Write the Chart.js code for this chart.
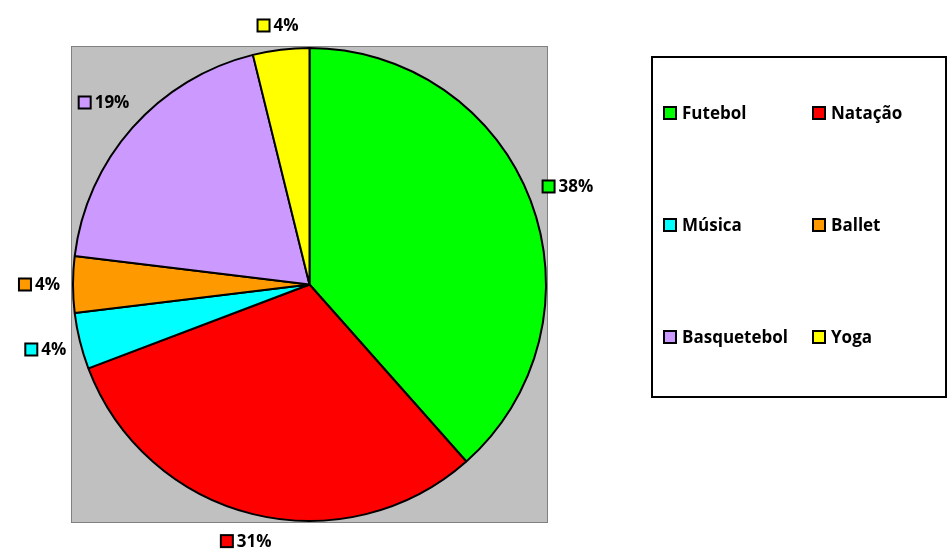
<!DOCTYPE html>
<html>
<head>
<meta charset="utf-8">
<script src="https://cdn.jsdelivr.net/npm/chart.js@4/dist/chart.umd.min.js"></script>
<style>
  html, body { margin: 0; padding: 0; background: #fff; }
  #wrap { width: 947px; height: 551px; position: relative; }
</style>
</head>
<body>
<div id="wrap"><canvas id="myChart" width="947" height="551"></canvas></div>
<script>
// dados
const categorias = ['Futebol', 'Natação', 'Música', 'Ballet', 'Basquetebol', 'Yoga'];
const contagens = [10, 8, 1, 1, 5, 1];
const cores = ['#00FF00', '#FF0000', '#00FFFF', '#FF9900', '#CC99FF', '#FFFF00'];

const FONTE = 'bold 17px "Open Sans", Lato, sans-serif';

// fundo cinzento da área do gráfico
const fundoPlugin = {
    id: 'fundo',
    beforeDatasetsDraw(chart) {
        const arc = chart.getDatasetMeta(0).data[0];
        if (!arc) return;
        const r = arc.outerRadius + 1;
        const ctx = chart.ctx;
        ctx.save();
        ctx.fillStyle = '#C0C0C0';
        ctx.fillRect(arc.x - r, arc.y - r, 2 * r, 2 * r);
        ctx.strokeStyle = '#808080';
        ctx.lineWidth = 1;
        ctx.strokeRect(arc.x - r - 0.5, arc.y - r - 0.5, 2 * r + 1, 2 * r + 1);
        ctx.restore();
    }
};

// rótulos de percentagem fora das fatias
const rotulosPlugin = {
    id: 'rotulos',
    afterDatasetsDraw(chart) {
        const ctx = chart.ctx;
        const ds = chart.data.datasets[0];
        const total = ds.data.reduce((a, b) => a + b, 0);
        ctx.save();
        ctx.font = FONTE;
        ctx.textBaseline = 'middle';
        chart.getDatasetMeta(0).data.forEach((arc, i) => {
            const meio = (arc.startAngle + arc.endAngle) / 2;
            const texto = Math.round(ds.data[i] / total * 100) + '%';
            const tw = ctx.measureText(texto).width;
            const q = 12, gap = 4;
            const largura = q + gap + tw;
            const dx = Math.cos(meio), dy = Math.sin(meio);
            // caixa do rótulo encostada ao círculo a uma distância fixa
            const ext = (largura / 2) * Math.abs(dx) + 9 * Math.abs(dy);
            const dist = arc.outerRadius + 13 + ext;
            const cx = arc.x + dx * dist;
            const cy = arc.y + dy * dist;
            const x0 = cx - largura / 2;
            ctx.fillStyle = cores[i];
            ctx.fillRect(x0, cy - q / 2, q, q);
            ctx.strokeStyle = '#000';
            ctx.lineWidth = 2;
            ctx.strokeRect(x0, cy - q / 2, q, q);
            ctx.fillStyle = '#000';
            ctx.textAlign = 'left';
            ctx.fillText(texto, x0 + q + gap, cy + 1);
        });
        ctx.restore();
    }
};

// legenda em caixa à direita
const legendaPlugin = {
    id: 'legenda',
    afterDraw(chart) {
        const ctx = chart.ctx;
        ctx.save();
        ctx.strokeStyle = '#000';
        ctx.lineWidth = 2;
        ctx.strokeRect(652, 57, 294, 340);
        ctx.font = FONTE;
        ctx.textBaseline = 'middle';
        ctx.textAlign = 'left';
        const colX = [664, 813];
        const linY = [113, 225, 337];
        chart.data.labels.forEach((nome, i) => {
            const x = colX[i % 2];
            const y = linY[Math.floor(i / 2)];
            const q = 12;
            ctx.fillStyle = cores[i];
            ctx.fillRect(x, y - q / 2, q, q);
            ctx.strokeStyle = '#000';
            ctx.lineWidth = 2;
            ctx.strokeRect(x, y - q / 2, q, q);
            ctx.fillStyle = '#000';
            ctx.fillText(nome, x + q + 6, y + 1);
        });
        ctx.restore();
    }
};

const ctx = document.getElementById('myChart').getContext('2d');
new Chart(ctx, {
    type: 'pie',
    data: {
        labels: categorias,
        datasets: [{
            data: contagens,
            backgroundColor: cores,
            borderColor: '#000',
            borderWidth: 2
        }]
    },
    options: {
        responsive: false,
        animation: false,
        layout: { padding: { left: 72, right: 400, top: 46, bottom: 28 } },
        plugins: {
            legend: { display: false },
            tooltip: { enabled: false }
        }
    },
    plugins: [fundoPlugin, rotulosPlugin, legendaPlugin]
});
</script>
</body>
</html>
